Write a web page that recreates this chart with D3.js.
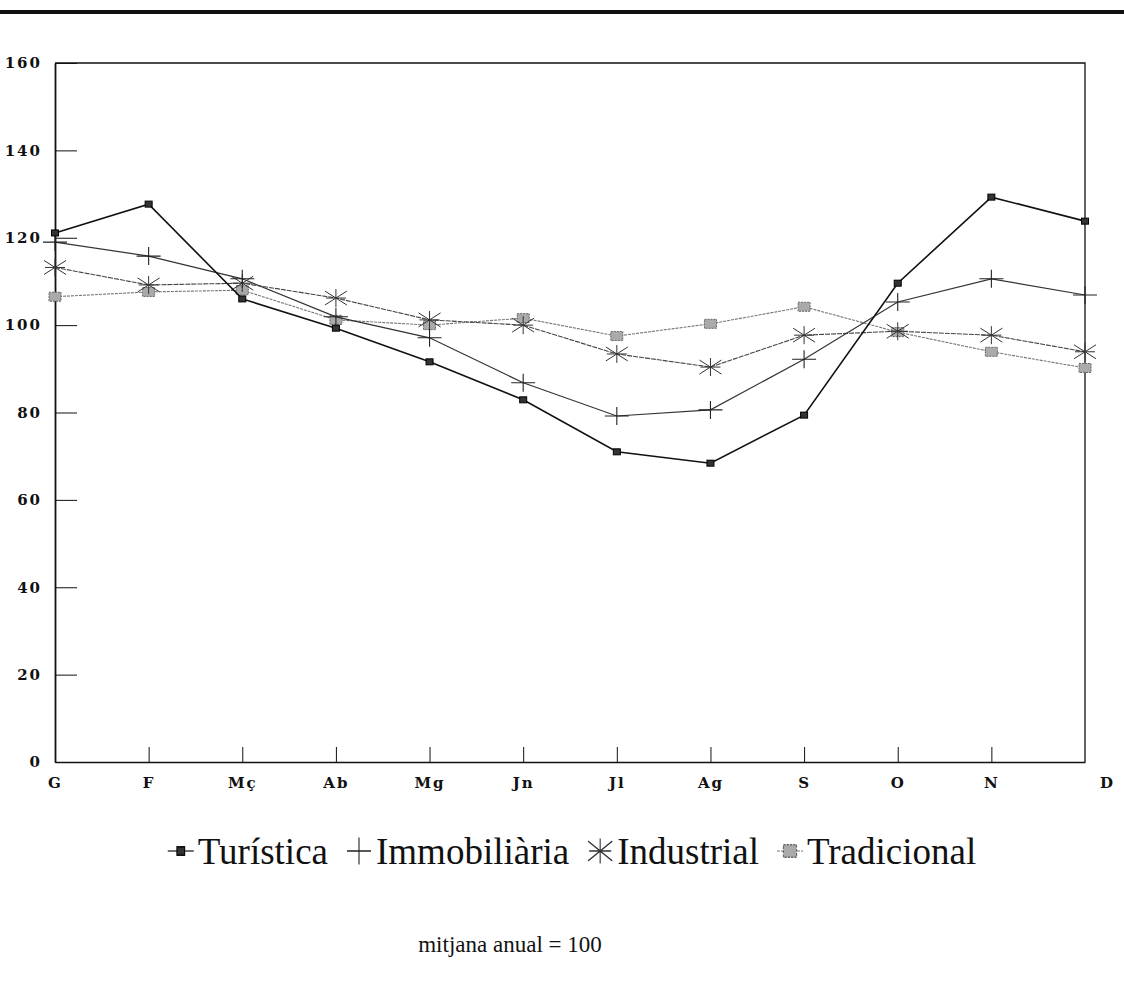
<!DOCTYPE html>
<html>
<head>
<meta charset="utf-8">
<script src="https://cdn.jsdelivr.net/npm/d3@7"></script>
<style>
  body { margin: 0; background: #fff; }
  svg { display: block; }
  .axis text { font-family: "DejaVu Serif", serif; font-weight: bold; font-size: 15px; fill: #111; }
  .axis path, .axis line { stroke: #111; }
</style>
</head>
<body>
<div id="chart"></div>
<script>
// months (catalan abbreviations) and y ticks
var months = ["G", "F", "Mç", "Ab", "Mg", "Jn", "Jl", "Ag", "S", "O", "N", "D"];
var yTicks = [0, 20, 40, 60, 80, 100, 120, 140, 160];

// index values, mitjana anual = 100
var turistica    = [121.1, 127.7, 106.0, 99.3, 91.6, 82.9, 71.0, 68.4, 79.4, 109.6, 129.3, 123.8];
var immobiliaria = [119.0, 115.8, 110.6, 101.9, 97.1, 86.8, 79.2, 80.6, 92.2, 105.3, 110.6, 106.9];
var industrial   = [113.2, 109.2, 109.6, 106.2, 101.2, 100.0, 93.4, 90.4, 97.7, 98.6, 97.7, 93.9];
var tradicional  = [106.5, 107.6, 108.0, 101.2, 100.0, 101.6, 97.5, 100.3, 104.2, 98.4, 93.9, 90.2];

var seriesNames = ["Turística", "Immobiliària", "Industrial", "Tradicional"];

var width = 1124,
    height = 987;

var svg = d3.select("#chart").append("svg")
    .attr("width", width)
    .attr("height", height);

// thick rule along the top of the page
svg.append("line")
    .attr("x1", 0).attr("x2", width)
    .attr("y1", 12).attr("y2", 12)
    .attr("stroke", "#111")
    .attr("stroke-width", 4);

var x = d3.scalePoint().domain(months).range([55, 1085]);
var y = d3.scaleLinear().domain([0, 160]).range([762, 63]);

// frame top + right
svg.append("path")
    .attr("d", "M" + x.range()[0] + "," + y(160) + "H" + x.range()[1] + "V" + y(0))
    .attr("fill", "none")
    .attr("stroke", "#111")
    .attr("stroke-width", 1.3);

var yAxis = svg.append("g")
    .attr("class", "axis")
    .attr("transform", "translate(" + x.range()[0] + ",0)")
    .call(d3.axisLeft(y).tickValues(yTicks).tickSize(-22).tickSizeOuter(0).tickPadding(13));
yAxis.select(".domain").attr("stroke-width", 1.8);
yAxis.selectAll("text").attr("letter-spacing", "2px");

var xAxis = svg.append("g")
    .attr("class", "axis")
    .attr("transform", "translate(0," + y(0) + ")")
    .call(d3.axisBottom(x).tickSize(-15).tickSizeOuter(0).tickPadding(15));
xAxis.select(".domain").attr("stroke-width", 1.5);
xAxis.selectAll("text").attr("letter-spacing", "2px");
xAxis.selectAll(".tick").filter(function(d) { return d == "G" || d == "D"; }).select("line").remove();
xAxis.selectAll(".tick").filter(function(d) { return d == "D"; }).select("text").attr("dx", 22);

var line = d3.line()
    .x(function(d, i) { return x(months[i]); })
    .y(function(d) { return y(d); });

// marker drawers
function squareBlack(g) {
  g.append("rect").attr("x", -3.5).attr("y", -3).attr("width", 7).attr("height", 6)
      .attr("fill", "#333").attr("stroke", "#000").attr("stroke-width", 1);
}
function cross(g) {
  g.append("path").attr("d", "M-12,0H12M0,-9V9")
      .attr("stroke", "#222").attr("stroke-width", 1.1);
}
function star(g) {
  g.append("path").attr("d", "M-11,-7L11,7M-11,7L11,-7M0,-9V9M-10,0H10")
      .attr("stroke", "#333").attr("stroke-width", 1);
}
function squareGrey(g) {
  g.append("rect").attr("x", -6).attr("y", -4.5).attr("width", 12).attr("height", 9)
      .attr("fill", "#aaa").attr("stroke", "#666").attr("stroke-width", 1)
      .attr("stroke-dasharray", "2,1");
}

var series = [
  { name: seriesNames[0], values: turistica,    stroke: "#111", width: 1.6, dash: null,  marker: squareBlack },
  { name: seriesNames[1], values: immobiliaria, stroke: "#333", width: 1.2, dash: null,  marker: cross },
  { name: seriesNames[2], values: industrial,   stroke: "#444", width: 1.1, dash: "5,1", marker: star },
  { name: seriesNames[3], values: tradicional,  stroke: "#777", width: 1.1, dash: "3,1", marker: squareGrey }
];

// draw back to front
series.slice().reverse().forEach(function(s) {
  svg.append("path")
      .datum(s.values)
      .attr("d", line)
      .attr("fill", "none")
      .attr("stroke", s.stroke)
      .attr("stroke-width", s.width)
      .attr("stroke-dasharray", s.dash);

  svg.append("g").selectAll("g")
      .data(s.values)
    .enter().append("g")
      .attr("transform", function(d, i) { return "translate(" + x(months[i]) + "," + y(d) + ")"; })
      .each(function() { s.marker(d3.select(this)); });
});

// legend, laid out left to right then centred
var legend = svg.append("g");
var lx = 0;
series.forEach(function(s, i) {
  var item = legend.append("g").attr("transform", "translate(" + lx + ",0)");
  var mw = 26;
  if (i == 0 || i == 3) {
    item.append("line").attr("x1", 0).attr("x2", mw).attr("y1", -13).attr("y2", -13)
        .attr("stroke", s.stroke).attr("stroke-width", 1.2).attr("stroke-dasharray", s.dash);
  }
  var m = item.append("g").attr("transform", "translate(" + (mw / 2) + ",-13) scale(" + (i == 1 ? 1 : 1.1) + "," + (i == 1 ? 1.5 : 1.4) + ")");
  s.marker(m);
  var t = item.append("text")
      .attr("x", mw + 4)
      .attr("font-family", "'Liberation Serif', serif")
      .attr("font-size", 37)
      .attr("fill", "#111")
      .text(s.name);
  lx += mw + 4 + t.node().getComputedTextLength() + (i < 3 ? 18 : 0);
});
legend.attr("transform", "translate(" + (572 - lx / 2) + ",864)");

svg.append("text")
    .attr("x", 510)
    .attr("y", 952)
    .attr("text-anchor", "middle")
    .attr("font-family", "'Liberation Serif', serif")
    .attr("font-size", 23)
    .attr("fill", "#111")
    .text("mitjana anual = 100");
</script>
</body>
</html>
